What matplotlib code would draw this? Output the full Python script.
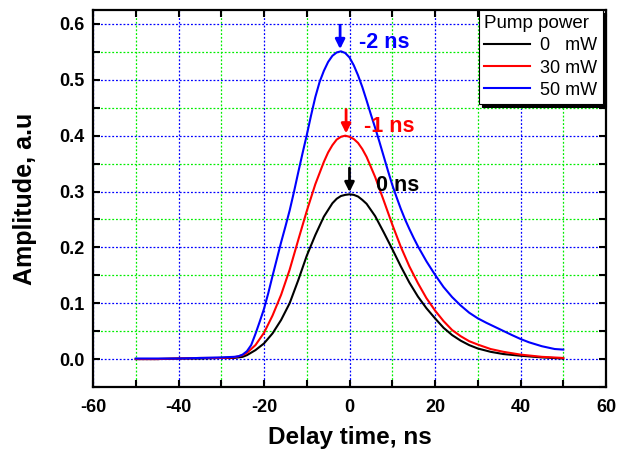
import matplotlib
matplotlib.use("Agg")
import matplotlib.pyplot as plt
from matplotlib.ticker import MultipleLocator, FormatStrFormatter

plt.rcParams['font.family'] = ['Liberation Sans', 'DejaVu Sans']
plt.rcParams['axes.unicode_minus'] = False

# ---- data ----
x_black = [-50, -45, -40, -35, -30, -27, -25, -24, -22, -20, -18, -16, -14, -12, -10, -8, -6, -4, -3, -2, -1, 0,
           1, 2, 3, 4, 6, 8, 10, 12, 14, 16, 18, 20, 22, 24, 26, 28, 30, 33, 36, 40, 45, 50]
y_black = [0.000, 0.000, 0.001, 0.001, 0.002, 0.002, 0.004, 0.007, 0.016, 0.028, 0.046, 0.070, 0.100, 0.141,
           0.185, 0.222, 0.255, 0.279, 0.287, 0.292, 0.294, 0.295, 0.294, 0.291, 0.285, 0.278, 0.256, 0.227,
           0.197, 0.166, 0.137, 0.112, 0.091, 0.073, 0.056, 0.043, 0.033, 0.025, 0.019, 0.013, 0.009, 0.006,
           0.003, 0.001]

x_red = [-50, -45, -40, -35, -30, -27, -25, -24, -22, -20, -18, -16, -14, -12, -10, -8, -6, -5, -4, -3, -2, -1,
         0, 1, 2, 3, 4, 6, 8, 10, 12, 14, 16, 18, 20, 22, 24, 26, 28, 30, 33, 36, 40, 45, 50]
y_red = [0.000, 0.000, 0.001, 0.002, 0.002, 0.003, 0.007, 0.011, 0.025, 0.047, 0.078, 0.115, 0.160, 0.213,
         0.265, 0.313, 0.353, 0.370, 0.383, 0.393, 0.398, 0.400, 0.398, 0.394, 0.387, 0.376, 0.362, 0.326,
         0.284, 0.241, 0.201, 0.166, 0.136, 0.109, 0.087, 0.068, 0.052, 0.041, 0.032, 0.026, 0.018, 0.013,
         0.008, 0.004, 0.002]

x_blue = [-50, -45, -40, -35, -30, -27, -26, -25, -24, -23, -22, -21, -20, -19, -18, -17, -16, -15, -14,
          -13, -12, -11, -10, -9, -8, -7, -6, -5, -4, -3, -2, -1, 0, 1, 2, 3, 4, 5, 6, 7, 8, 9, 10, 11,
          12, 13, 14, 15, 16, 18, 20, 22, 24, 26, 28, 30, 32, 35, 38, 40, 42, 45, 48, 50]
y_blue = [0.001, 0.001, 0.001, 0.002, 0.003, 0.004, 0.005, 0.008, 0.014, 0.025, 0.045, 0.067, 0.090,
          0.118, 0.149, 0.179, 0.209, 0.237, 0.266, 0.299, 0.334, 0.368, 0.401, 0.436, 0.469, 0.496,
          0.516, 0.532, 0.543, 0.549, 0.551, 0.548, 0.540, 0.526, 0.508, 0.487, 0.463, 0.438, 0.414,
          0.389, 0.363, 0.337, 0.312, 0.290, 0.269, 0.250, 0.233, 0.217, 0.202, 0.175, 0.151, 0.129,
          0.111, 0.096, 0.083, 0.073, 0.065, 0.054, 0.043, 0.036, 0.030, 0.023, 0.018, 0.017]

series_labels = ["0   mW", "30 mW", "50 mW"]
series_colors = ["black", "#ff0000", "#0000ff"]

peak_x = [0, -0.8, -2.2]
peak_y = [0.295, 0.400, 0.551]
peak_labels = ["0 ns", "-1 ns", "-2 ns"]
label_x = [6.1, 3.3, 2.3]

# ---- figure ----
fig = plt.figure(figsize=(6.17, 4.53), dpi=100)
ax = fig.add_axes([93 / 617, 1 - 387 / 453, (606 - 93) / 617, (387 - 10) / 453])

ax.set_xlim(-60, 60)
ax.set_ylim(-0.05, 0.625)
ax.xaxis.set_major_locator(MultipleLocator(20))
ax.xaxis.set_minor_locator(MultipleLocator(10))
ax.yaxis.set_major_locator(MultipleLocator(0.1))
ax.yaxis.set_minor_locator(MultipleLocator(0.05))
ax.yaxis.set_major_formatter(FormatStrFormatter('%.1f'))

ax.grid(which='minor', color='#00ee00', linestyle=(0, (1.5, 1.5)), linewidth=0.9, zorder=0)
ax.grid(which='major', color='#0000ff', linestyle=(0, (1.5, 1.5)), linewidth=0.9, zorder=0)
ax.set_axisbelow(True)

for xs, ys, lab, col in zip([x_black, x_red, x_blue], [y_black, y_red, y_blue], series_labels, series_colors):
    ax.plot(xs, ys, color=col, lw=1.5, label=lab, zorder=3)

for px, py, lx, lab, col in zip(peak_x, peak_y, label_x, peak_labels, series_colors):
    ax.annotate("", xy=(px, py + 0.004), xytext=(px, py + 0.047),
                arrowprops=dict(arrowstyle='-|>', color=col, lw=2, mutation_scale=14,
                                shrinkA=0, shrinkB=0), zorder=4)
    ax.text(lx, py + 0.016, lab, color=col, fontsize=15.5, fontweight='bold',
            ha='left', va='center', zorder=4)

for s in ax.spines.values():
    s.set_linewidth(1.6)
ax.tick_params(which='both', direction='in', length=5, width=1.5, top=True, right=True,
               labelsize=13)
for t in ax.get_xticklabels() + ax.get_yticklabels():
    t.set_fontweight('bold')
ax.tick_params(axis='x', pad=9)
ax.tick_params(axis='y', pad=6)

ax.set_xlabel("Delay time, ns", fontsize=17.5, fontweight='bold', labelpad=7)
ax.set_ylabel("Amplitude, a.u", fontsize=18, fontweight='bold', labelpad=16)

leg = ax.legend(title="Pump power", loc='upper right', bbox_to_anchor=(0.994, 1.0),
                fontsize=13, title_fontsize=13.5, frameon=True, fancybox=False,
                shadow={'color': 'black', 'alpha': 1.0}, alignment='left',
                handlelength=2.5, handletextpad=0.6, borderpad=0.3, labelspacing=0.28,
                borderaxespad=0.0, framealpha=1)
leg.get_frame().set_edgecolor('black')
leg.get_frame().set_linewidth(0.8)
leg.set_zorder(5)

fig.savefig("out.png", dpi=100)
